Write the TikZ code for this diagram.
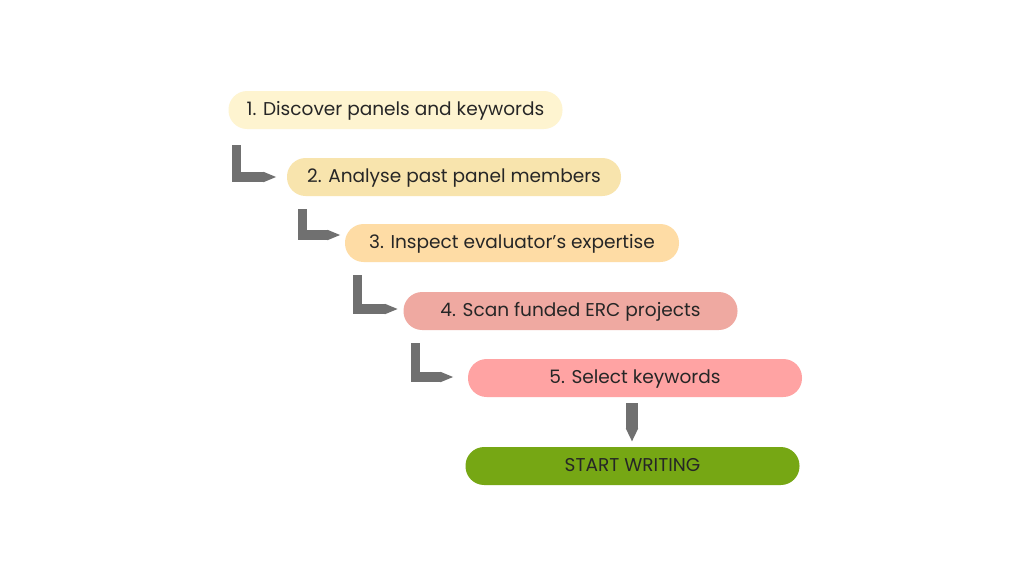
\documentclass[tikz,border=0pt]{standalone}
\usepackage{fontspec}
\setmainfont{Poppins}
\usepackage{tikz}
\usetikzlibrary{arrows.meta}

\definecolor{stepone}{RGB}{254,244,208}
\definecolor{steptwo}{RGB}{248,228,173}
\definecolor{stepthree}{RGB}{254,220,165}
\definecolor{stepfour}{RGB}{239,169,161}
\definecolor{stepfive}{RGB}{255,163,163}
\definecolor{startgreen}{RGB}{118,167,20}
\definecolor{elbowgray}{RGB}{112,112,112}

\begin{document}
\begin{tikzpicture}[x=0.75pt,y=-0.75pt]
\tikzset{stepbox/.style={rounded corners=14pt,minimum width=250.5pt,minimum height=28.5pt,
  inner sep=0pt,text height=10pt,text depth=2.5pt,text=black!85,font=\fontsize{13.9}{15}\selectfont}}
\tikzset{elbow/.style={draw=elbowgray,line width=7pt,-{Triangle[length=10pt,width=0pt 1]}}}
\useasboundingbox[fill=white] (0,0) rectangle (1024,576);
 \node[stepbox,fill=stepone]   (discover) at (395.5,110) {1. Discover panels and keywords};
 \node[stepbox,fill=steptwo]   (analyse)  at (454,177)   {2. Analyse past panel members};
 \node[stepbox,fill=stepthree] (inspect)  at (512,243)   {3. Inspect evaluator’s expertise};
 \node[stepbox,fill=stepfour]  (scan)     at (570.5,311) {4. Scan funded ERC projects};
 \node[stepbox,fill=stepfive]  (select)   at (635,378)   {5. Select keywords};
 \node[stepbox,fill=startgreen] (write)   at (632.5,466) {START WRITING};
 \draw[elbow] ([shift={(8,16)}]discover.south west) |- ([shift={(-10,0)}]analyse.west);
 \draw[elbow] ([shift={(16,13)}]analyse.south west) |- ([shift={(-4,-8)}]inspect.west);
 \draw[elbow] ([shift={(13,13)}]inspect.south west) |- ([shift={(-5,-2)}]scan.west);
 \draw[elbow] ([shift={(12,13)}]scan.south west)    |- ([shift={(-14,-1)}]select.west);
 \draw[elbow,line width=8.5pt] ([shift={(-3,6)}]select.south) -- ([shift={(-0.5,-5)}]write.north);
\end{tikzpicture}
\end{document}
